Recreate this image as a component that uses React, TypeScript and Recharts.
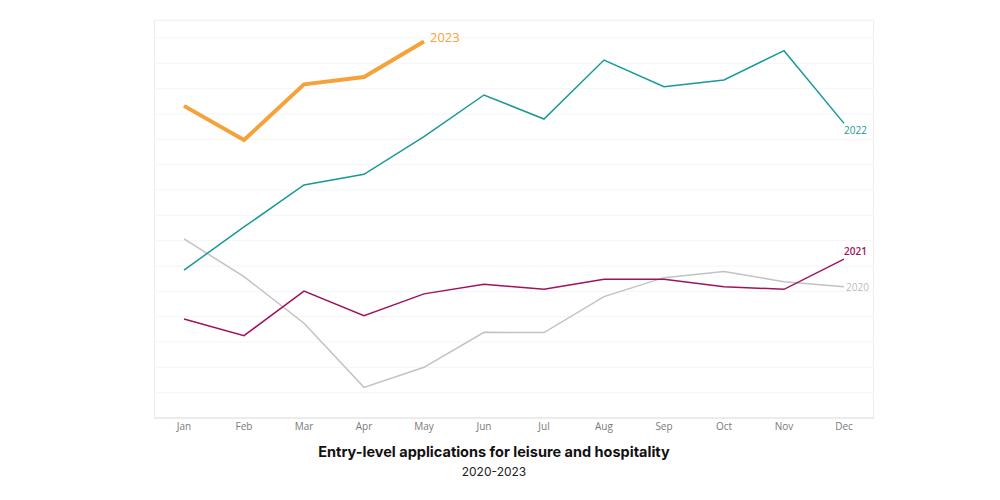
import React from 'react'
import { LineChart, Line, XAxis, YAxis, CartesianGrid } from 'recharts'

const months = ['Jan', 'Feb', 'Mar', 'Apr', 'May', 'Jun', 'Jul', 'Aug', 'Sep', 'Oct', 'Nov', 'Dec']

// values (arbitrary index units, no y labels in the original)
const apps2020 = [7.07, 5.58, 3.74, 1.21, 2.0, 3.38, 3.37, 4.79, 5.54, 5.78, 5.38, 5.18]
const apps2021 = [3.91, 3.25, 5.01, 4.04, 4.9, 5.28, 5.08, 5.48, 5.48, 5.18, 5.08, 6.27]
const apps2022 = [5.84, 7.54, 9.2, 9.62, 11.11, 12.75, 11.8, 14.13, 13.08, 13.34, 14.5, 11.63]
const apps2023 = [12.32, 10.97, 13.17, 13.46, 14.86]

const gridTicks = [1, 2, 3, 4, 5, 6, 7, 8, 9, 10, 11, 12, 13, 14, 15]

const data = months.map((m, i) => ({
  month: m,
  y2020: apps2020[i],
  y2021: apps2021[i],
  y2022: apps2022[i],
  y2023: apps2023[i],
}))

const endLabel = (
  lastIndex: number,
  text: string,
  color: string,
  dx: number,
  dy: number,
  size: number,
  weight: number,
) =>
  (props: any) => {
    if (props.index !== lastIndex) return null
    return (
      <text
        x={props.x + dx}
        y={props.y + dy}
        fill={color}
        fontSize={size}
        fontWeight={weight}
        fontFamily="Open Sans, sans-serif"
      >
        {text}
      </text>
    )
  }

export default function App() {
  return (
    <div style={{ position: 'absolute', left: 0, top: 0, width: 1000, height: 500, background: '#fff' }}>
      {/* light frame around the plot area */}
      <div
        style={{
          position: 'absolute', left: 154, top: 20, width: 720, height: 398,
          border: '1px solid #ececec', borderBottom: 'none', boxSizing: 'border-box',
        }}
      />
      <LineChart
        width={1000}
        height={460}
        data={data}
        margin={{ top: 20, right: 126, bottom: 12, left: 154 }}
        style={{ position: 'absolute', left: 0, top: 0 }}
      >
        <CartesianGrid vertical={false} stroke="#f5f5f5" />
        <XAxis
          dataKey="month"
          padding={{ left: 30, right: 30 }}
          height={30}
          tickLine={false}
          tickSize={0}
          tickMargin={5}
          axisLine={{ stroke: '#dddddd' }}
          tick={{ fontSize: 10, fill: '#7a7a7a', fontFamily: 'Open Sans, sans-serif' }}
          interval={0}
        />
        <YAxis hide domain={[0, 15.71]} ticks={gridTicks} type="number" allowDataOverflow />
        <Line
          dataKey="y2020"
          stroke="#c2c2c2"
          strokeWidth={1.5}
          dot={false}
          isAnimationActive={false}
          label={endLabel(11, '2020', '#bdbdbd', 2, 4, 10, 400)}
        />
        <Line
          dataKey="y2021"
          stroke="#a0125f"
          strokeWidth={1.5}
          dot={false}
          isAnimationActive={false}
          label={endLabel(11, '2021', '#a0125f', 0, -4, 10, 600)}
        />
        <Line
          dataKey="y2022"
          stroke="#17999b"
          strokeWidth={1.5}
          dot={false}
          isAnimationActive={false}
          label={endLabel(11, '2022', '#17999b', 0, 11, 10, 400)}
        />
        <Line
          dataKey="y2023"
          stroke="#f6a23b"
          strokeWidth={4}
          dot={false}
          isAnimationActive={false}
          label={endLabel(4, '2023', '#f6a23b', 6, 0, 13, 500)}
        />
      </LineChart>
      <div
        style={{
          position: 'absolute', left: 0, top: 443, width: 988, textAlign: 'center',
          fontFamily: 'Inter, sans-serif', fontWeight: 700, fontSize: 14.5, color: '#111',
        }}
      >
        Entry-level applications for leisure and hospitality
      </div>
      <div
        style={{
          position: 'absolute', left: 0, top: 464, width: 988, textAlign: 'center',
          fontFamily: 'Inter, sans-serif', fontSize: 12, color: '#222',
        }}
      >
        2020-2023
      </div>
    </div>
  )
}
